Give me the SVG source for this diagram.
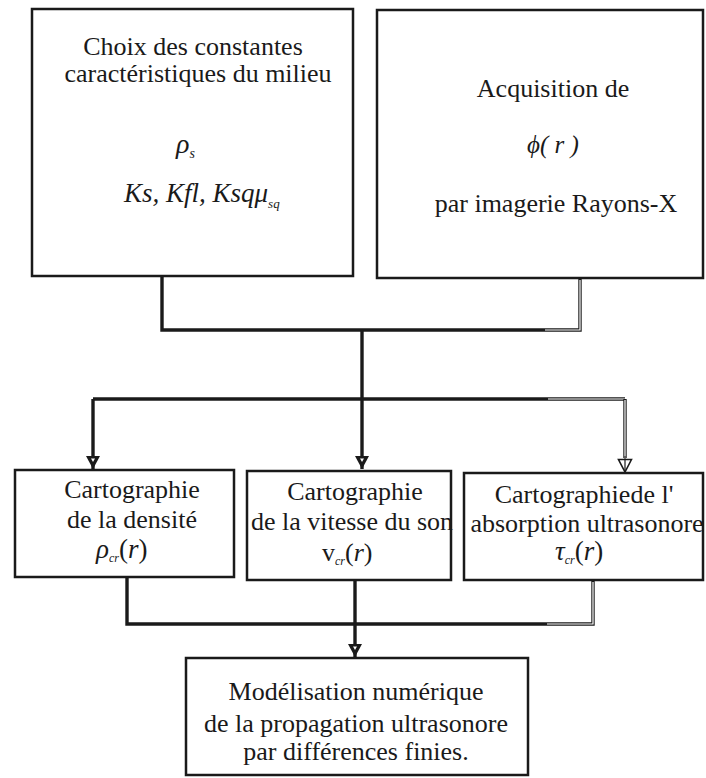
<svg xmlns="http://www.w3.org/2000/svg" width="706" height="778" viewBox="0 0 706 778">
<style>
.box{fill:none;stroke:#1a1a1a;stroke-width:2.5}
.t{font-family:"Liberation Serif","Times New Roman",serif;font-size:26px;fill:#1a1a1a;text-anchor:middle}
.m{font-family:"Liberation Serif","Times New Roman",serif;font-style:italic;fill:#1a1a1a}
.c{fill:none;stroke:#1a1a1a;stroke-width:3.4;stroke-linejoin:miter}
.h{fill:none;stroke:#fff;stroke-width:1.2}
</style>
<defs>
<marker id="ar" markerUnits="userSpaceOnUse" markerWidth="16" markerHeight="16" refX="14" refY="8" orient="auto" viewBox="0 0 16 16">
<path d="M1,1 L14,8 L1,15 Z" fill="#1a1a1a"/>
<path d="M3.5,6 L7,8 L3.5,10 Z" fill="#fff"/>
</marker>
<marker id="ah" markerUnits="userSpaceOnUse" markerWidth="16" markerHeight="16" refX="14" refY="8" orient="auto" viewBox="0 0 16 16">
<path d="M1.5,1.5 L14,8 L1.5,14.5 Z" fill="#fff" stroke="#1a1a1a" stroke-width="1.6"/>
<path d="M1.5,8 L14,8" stroke="#1a1a1a" stroke-width="1.2"/>
</marker>
</defs>
<rect width="706" height="778" fill="#fff"/>

<g id="connectors">
<path class="c" d="M162,277 V330 H580 V279"/>
<path class="h" d="M545,330 H580 V280"/>
<path class="c" d="M362,330 V469" marker-end="url(#ar)"/>
<path class="c" d="M93,399 H625"/>
<path class="h" d="M548,399 H625"/>
<path class="c" d="M93,399 V469" marker-end="url(#ar)"/>
<path class="c" d="M625,399 V458"/>
<path class="h" d="M625,400 V458"/>
<path d="M625,456 V472" stroke="#1a1a1a" stroke-width="1" marker-end="url(#ah)"/>
<path class="c" d="M127,578 V624 H593 V581"/>
<path class="h" d="M547,624 H593 V582"/>
<path class="c" d="M355,581 V657" marker-end="url(#ar)"/>
</g>

<g id="n1">
<rect class="box" x="32" y="9" width="321" height="267"/>
<text class="t" x="193" y="55">Choix des constantes</text>
<text class="t" x="198" y="82">caractéristiques du milieu</text>
<text class="m" x="176" y="153" font-size="28">ρ<tspan font-size="14" dy="5">s</tspan></text>
<text class="m" x="124" y="202" font-size="27">Ks, Kfl, Ksqμ<tspan font-size="13" dy="6">sq</tspan></text>
</g>

<g id="n2">
<rect class="box" x="377" y="10" width="326" height="268"/>
<text class="t" x="553" y="97">Acquisition de</text>
<text class="m" x="553" y="153" font-size="25" text-anchor="middle">ϕ( r )</text>
<text class="t" x="556" y="212">par imagerie Rayons-X</text>
</g>

<g id="n3">
<rect class="box" x="15" y="470" width="219" height="107"/>
<text class="t" x="132" y="498">Cartographie</text>
<text class="t" x="132" y="528">de la densité</text>
<text class="m" x="96" y="558" font-size="27">ρ<tspan font-size="12" dy="4">cr</tspan><tspan dy="-4" font-style="normal">(</tspan>r<tspan font-style="normal">)</tspan></text>
</g>

<g id="n4">
<rect class="box" x="247" y="471" width="204" height="109"/>
<text class="t" x="355" y="500">Cartographie</text>
<text class="t" x="352" y="530">de la vitesse du son</text>
<text class="m" x="322" y="561" font-size="26"><tspan font-style="normal">v</tspan><tspan font-size="12" dy="4">cr</tspan><tspan dy="-4" font-style="normal">(</tspan>r<tspan font-style="normal">)</tspan></text>
</g>

<g id="n5">
<rect class="box" x="464" y="473" width="239" height="107"/>
<text class="t" x="584" y="503">Cartographiede l'</text>
<text class="t" x="587" y="532">absorption ultrasonore</text>
<text class="m" x="555" y="560" font-size="27">τ<tspan font-size="12" dy="4">cr</tspan><tspan dy="-4" font-style="normal">(</tspan>r<tspan font-style="normal">)</tspan></text>
</g>

<g id="n6">
<rect class="box" x="186" y="658" width="342" height="117"/>
<text class="t" x="356" y="700">Modélisation numérique</text>
<text class="t" x="356" y="732">de la propagation ultrasonore</text>
<text class="t" x="356" y="760">par différences finies.</text>
</g>
</svg>
